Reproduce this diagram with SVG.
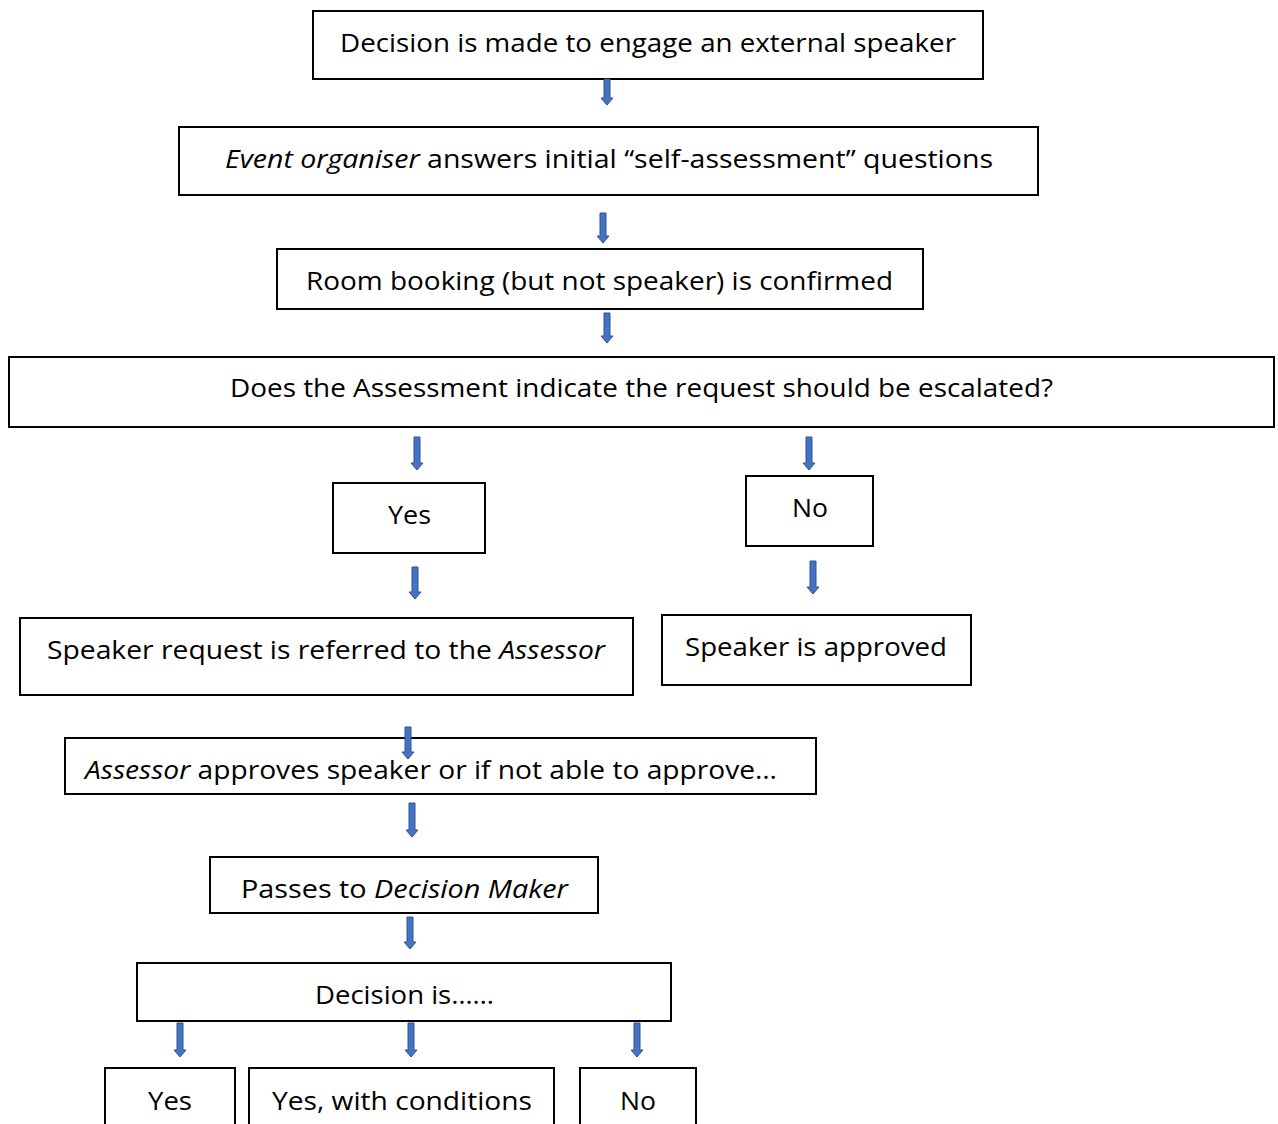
<svg xmlns="http://www.w3.org/2000/svg" width="1278" height="1124" viewBox="0 0 1278 1124">
<style>
.box{fill:#fff;stroke:#000;stroke-width:2}
.t{font-family:"Open Sans","Noto Sans",sans-serif;font-size:25px;fill:#000}
.i{font-style:italic}
.arr{fill:#4472C4;stroke:#2F528F;stroke-width:1}
</style>
<rect width="1278" height="1124" fill="#fff"/>
<g id="n1"><rect class="box" x="313" y="11" width="670" height="68"/><text class="t" x="340" y="52" textLength="616" lengthAdjust="spacingAndGlyphs">Decision is made to engage an external speaker</text></g>
<g id="n2"><rect class="box" x="179" y="127" width="859" height="68"/><text class="t" x="225" y="168" textLength="768" lengthAdjust="spacingAndGlyphs"><tspan class="i">Event organiser</tspan> answers initial “self-assessment” questions</text></g>
<g id="n3"><rect class="box" x="277" y="249" width="646" height="60"/><text class="t" x="306" y="290" textLength="587" lengthAdjust="spacingAndGlyphs">Room booking (but not speaker) is confirmed</text></g>
<g id="n4"><rect class="box" x="9" y="357" width="1265" height="70"/><text class="t" x="230" y="397" textLength="823" lengthAdjust="spacingAndGlyphs">Does the Assessment indicate the request should be escalated?</text></g>
<g id="n5"><rect class="box" x="333" y="483" width="152" height="70"/><text class="t" x="388" y="524" textLength="43" lengthAdjust="spacingAndGlyphs">Yes</text></g>
<g id="n6"><rect class="box" x="746" y="476" width="127" height="70"/><text class="t" x="792" y="517" textLength="36" lengthAdjust="spacingAndGlyphs">No</text></g>
<g id="n7"><rect class="box" x="20" y="618" width="613" height="77"/><text class="t" x="47" y="659" textLength="558" lengthAdjust="spacingAndGlyphs">Speaker request is referred to the <tspan class="i">Assessor</tspan></text></g>
<g id="n8"><rect class="box" x="662" y="615" width="309" height="70"/><text class="t" x="685" y="656" textLength="262" lengthAdjust="spacingAndGlyphs">Speaker is approved</text></g>
<g id="n9"><rect class="box" x="65" y="738" width="751" height="56"/><text class="t" x="85" y="779" textLength="692" lengthAdjust="spacingAndGlyphs"><tspan class="i">Assessor</tspan> approves speaker or if not able to approve…</text></g>
<g id="n10"><rect class="box" x="210" y="857" width="388" height="56"/><text class="t" x="241" y="898" textLength="327" lengthAdjust="spacingAndGlyphs">Passes to <tspan class="i">Decision Maker</tspan></text></g>
<g id="n11"><rect class="box" x="137" y="963" width="534" height="58"/><text class="t" x="315" y="1004" textLength="179" lengthAdjust="spacingAndGlyphs">Decision is……</text></g>
<g id="n12"><rect class="box" x="105" y="1068" width="130" height="70"/><text class="t" x="148" y="1110" textLength="44" lengthAdjust="spacingAndGlyphs">Yes</text></g>
<g id="n13"><rect class="box" x="249" y="1068" width="305" height="70"/><text class="t" x="272" y="1110" textLength="260" lengthAdjust="spacingAndGlyphs">Yes, with conditions</text></g>
<g id="n14"><rect class="box" x="580" y="1068" width="116" height="70"/><text class="t" x="620" y="1110" textLength="36" lengthAdjust="spacingAndGlyphs">No</text></g>
<g id="connectors">
<path class="arr" d="M604,79 H610 V98 H613 L607,105 L601,98 H604 Z"/>
<path class="arr" d="M600,213 H606 V236 H609 L603,243 L597,236 H600 Z"/>
<path class="arr" d="M604,313 H610 V336 H613 L607,343 L601,336 H604 Z"/>
<path class="arr" d="M414,437 H420 V463 H423 L417,470 L411,463 H414 Z"/>
<path class="arr" d="M806,437 H812 V463 H815 L809,470 L803,463 H806 Z"/>
<path class="arr" d="M412,567 H418 V592 H421 L415,599 L409,592 H412 Z"/>
<path class="arr" d="M810,561 H816 V587 H819 L813,594 L807,587 H810 Z"/>
<path class="arr" d="M405,727 H411 V752 H414 L408,759 L402,752 H405 Z"/>
<path class="arr" d="M409,803 H415 V830 H418 L412,837 L406,830 H409 Z"/>
<path class="arr" d="M407,917 H413 V942 H416 L410,949 L404,942 H407 Z"/>
<path class="arr" d="M177,1023 H183 V1050 H186 L180,1057 L174,1050 H177 Z"/>
<path class="arr" d="M408,1023 H414 V1050 H417 L411,1057 L405,1050 H408 Z"/>
<path class="arr" d="M634,1023 H640 V1050 H643 L637,1057 L631,1050 H634 Z"/>
</g>
</svg>
